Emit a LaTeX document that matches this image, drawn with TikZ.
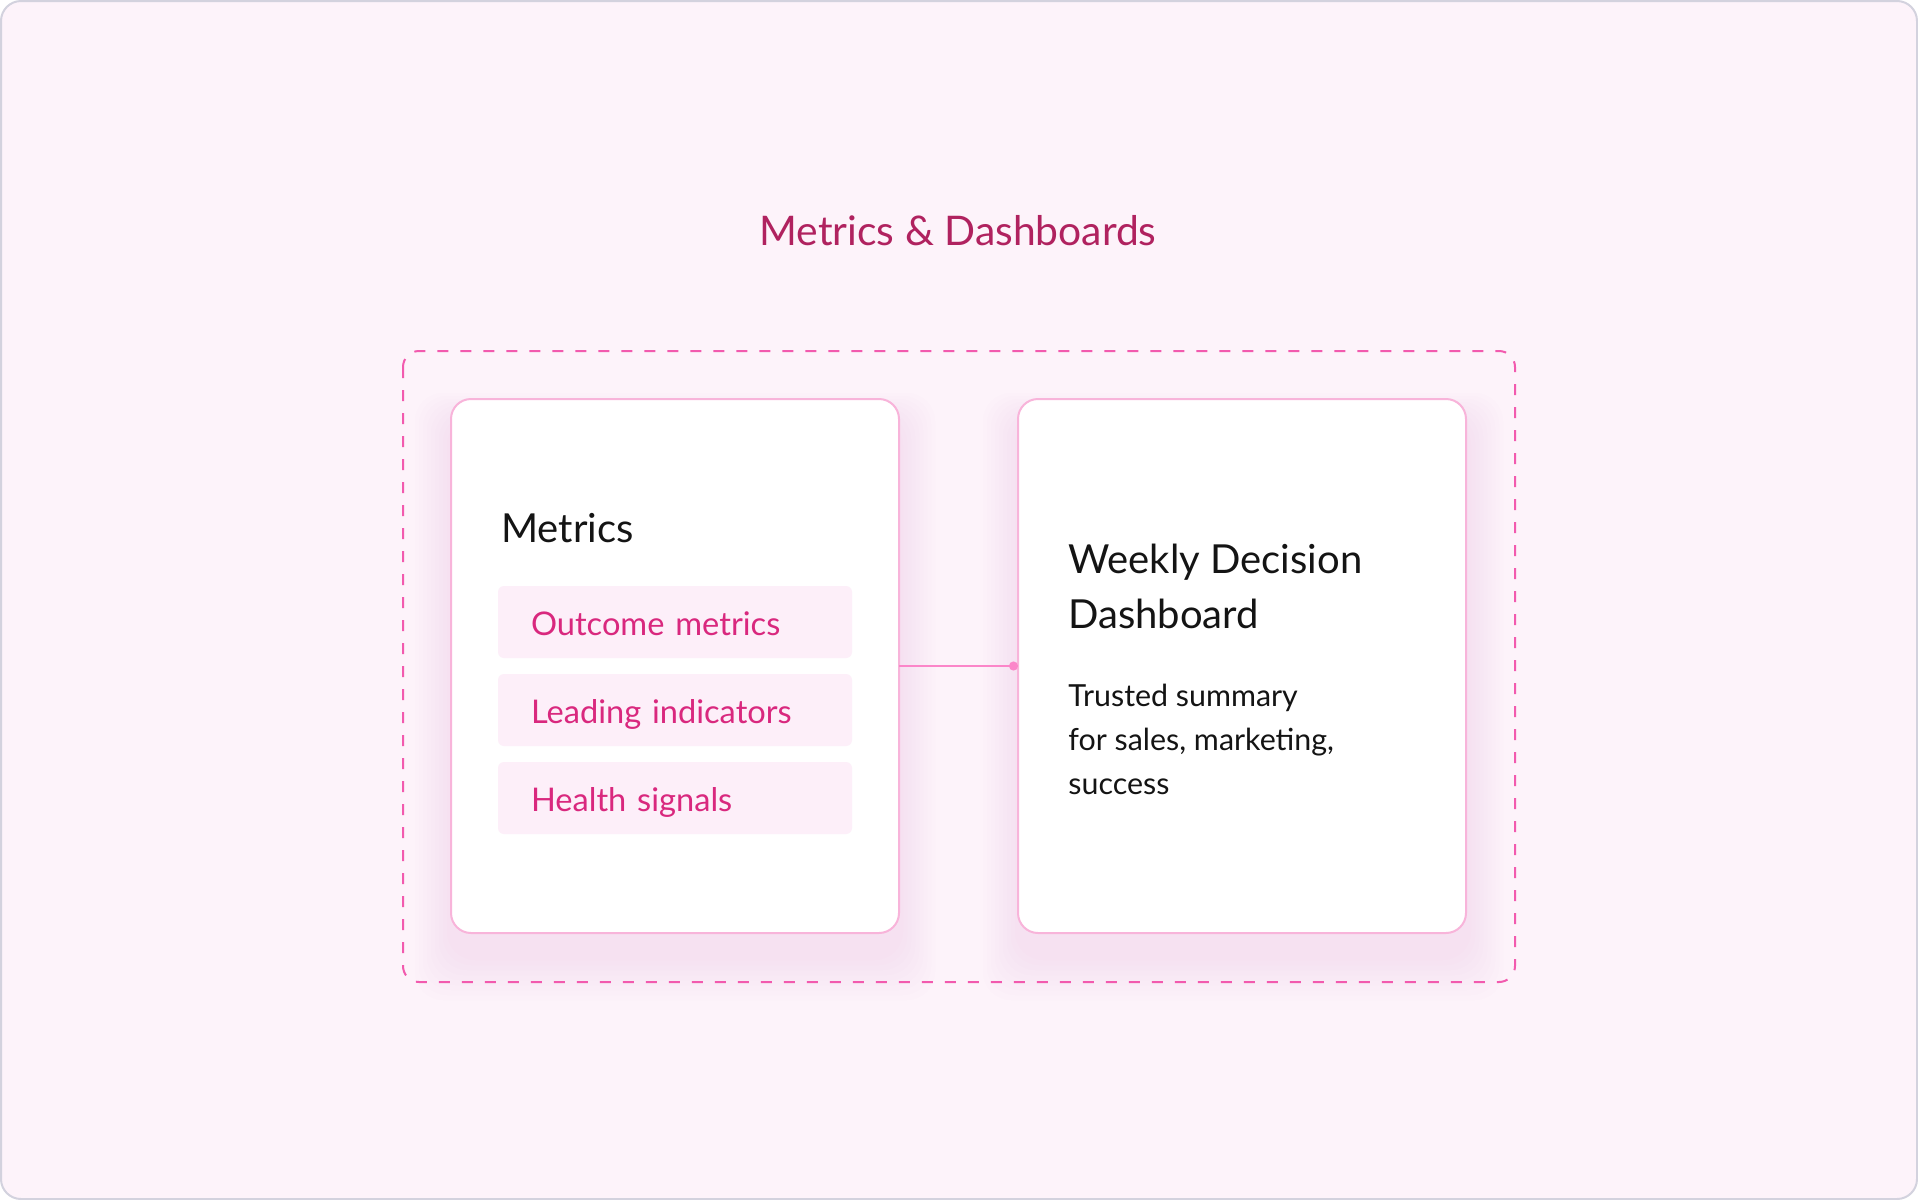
\documentclass[tikz,border=0pt]{standalone}
\usepackage{fontspec}
\setmainfont{Lato}
\usetikzlibrary{positioning}
\usetikzlibrary{arrows.meta}

\definecolor{pagebg}{HTML}{FDF3FA}
\definecolor{pageline}{HTML}{D3D2DE}
\definecolor{dashpink}{HTML}{F25AAE}
\definecolor{cardline}{HTML}{F8B4DA}
\definecolor{shadowpink}{HTML}{F6A2D0}
\definecolor{itemfill}{HTML}{FDEFF9}
\definecolor{itemtext}{HTML}{D9287E}
\definecolor{titlecol}{HTML}{B0225F}
\definecolor{linkcol}{HTML}{FB86C9}
\definecolor{inkcol}{HTML}{141414}

\tikzset{
  card/.style={draw=cardline, line width=1pt, fill=white, rounded corners=10pt,
    minimum width=224pt, minimum height=267pt, inner sep=0pt, outer sep=0pt},
  itembox/.style={fill=itemfill, rounded corners=3pt, text=itemtext,
    font=\fontsize{16.3}{20}\selectfont, text width=144pt, inner xsep=16.5pt,
    inner ysep=0pt, minimum height=36pt, text height=13pt, text depth=0pt,
    align=left, outer sep=0pt},
  headtext/.style={anchor=base west, inner sep=0pt, text=inkcol,
    font=\fontsize{20}{27.5}\selectfont, align=left},
  bodytext/.style={anchor=base west, inner sep=0pt, text=inkcol,
    font=\fontsize{15.2}{22}\selectfont, align=left},
  linkline/.style={draw=linkcol, line width=1pt, -{Circle[length=4.5pt]}}
}

\begin{document}
\begin{tikzpicture}[x=0.5pt,y=0.5pt]
\useasboundingbox (0,0) rectangle (1918,-1200);
\fill[pagebg, draw=pageline, line width=1pt, rounded corners=10pt]
  (1,-1) rectangle (1917,-1199);

\node[anchor=base, inner sep=0pt, text=titlecol, font=\fontsize{20.4}{24}\selectfont]
  (title) at (958,-245) {Metrics \& Dashboards};

\coordinate (frameNW) at (403,-351);
\coordinate (frameSE) at (1515,-982);

\foreach \i in {1,...,9}{
  \fill[shadowpink, opacity=0.022, rounded corners=14pt]
    ({451-4*\i},{-420+3*\i}) rectangle ({899+4*\i},{-955-5*\i});
  \fill[shadowpink, opacity=0.022, rounded corners=14pt]
    ({1019-4*\i},{-420+3*\i}) rectangle ({1467+4*\i},{-955-5*\i});
}

\draw[dashpink, line width=1pt, dash pattern=on 5.5pt off 6pt, rounded corners=8pt]
  (frameNW) rectangle (frameSE);

\node[card] (metricscard) at (675,-666) {};
\node[card, right=59.5pt of metricscard] (weeklycard) {};

\node[headtext] (metricshead) at (501,-542) {Metrics};
\node[itembox] (outcome) at (675,-622) {Outcome metrics};
\node[itembox, below=8pt of outcome] (leading) {Leading indicators};
\node[itembox, below=8pt of leading] (health) {Health signals};

\node[headtext] (weeklyhead) at (1068,-628) {Weekly Decision\\Dashboard};
\node[bodytext] (weeklybody) at (1068,-794) {Trusted summary\\for sales, marketing,\\success};

\draw[linkline] (metricscard.east) -- (weeklycard.west);
\end{tikzpicture}
\end{document}
